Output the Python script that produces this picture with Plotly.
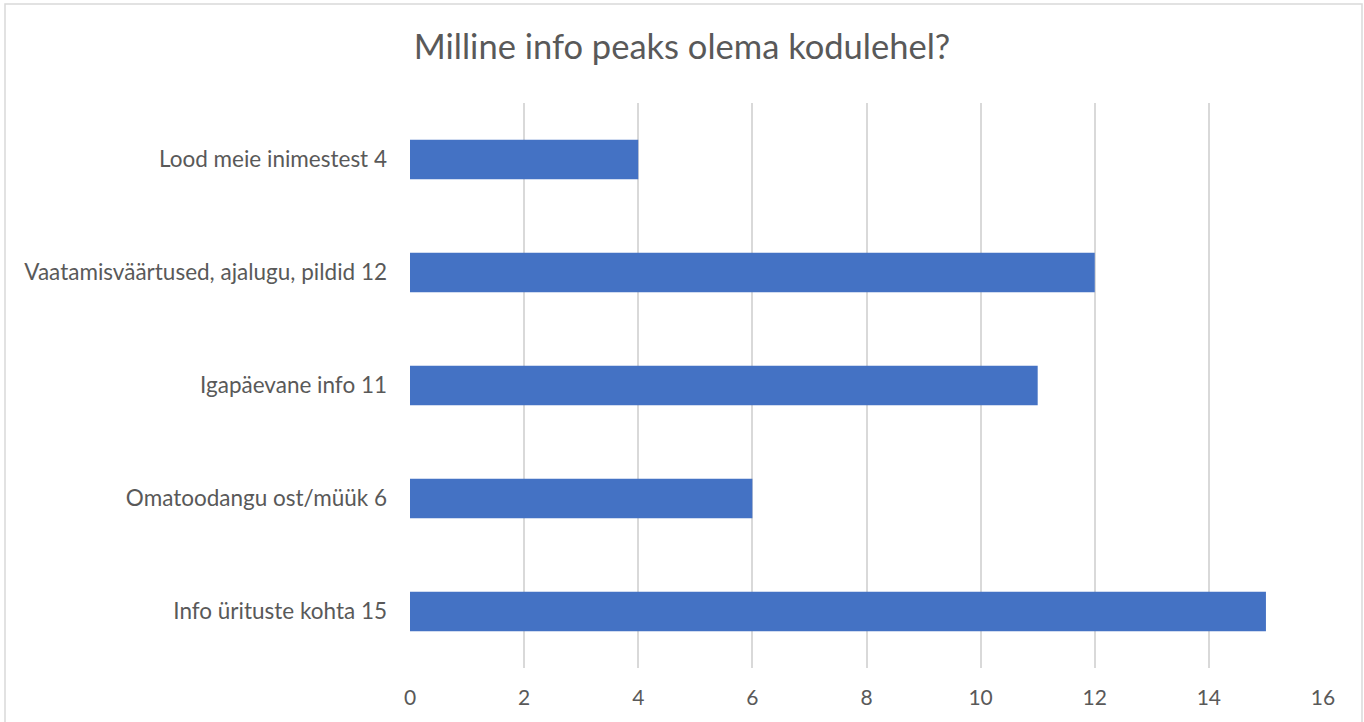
import plotly.graph_objects as go

# categories listed bottom to top as they appear on the chart
categories = [
    "Info ürituste kohta 15",
    "Omatoodangu ost/müük 6",
    "Igapäevane info 11",
    "Vaatamisväärtused, ajalugu, pildid 12",
    "Lood meie inimestest 4",
]
values = [15, 6, 11, 12, 4]
x_ticks = [0, 2, 4, 6, 8, 10, 12, 14, 16]

TEXT = "#595959"
GRID = "#D9D9D9"
BAR = "#4472C4"
FONT = "Lato"

fig = go.Figure(
    go.Bar(
        x=values,
        y=categories,
        orientation="h",
        marker=dict(color=BAR, line=dict(width=0)),
        width=0.35,
    )
)

fig.update_layout(
    width=1364,
    height=722,
    paper_bgcolor="white",
    plot_bgcolor="white",
    margin=dict(l=410, r=41, t=103, b=54),
    font=dict(family=FONT, color=TEXT, size=22),
    title=dict(
        text="Milline info peaks olema kodulehel?",
        x=0.5,
        xanchor="center",
        y=1 - 47 / 722,
        yanchor="middle",
        font=dict(family=FONT, size=34.5, color=TEXT),
    ),
    showlegend=False,
)

fig.update_xaxes(
    range=[0, 16],
    tickvals=x_ticks,
    showgrid=True,
    gridcolor=GRID,
    gridwidth=1.5,
    zeroline=False,
    showline=False,
    ticks="",
    ticklabelstandoff=15,
    tickfont=dict(size=21, color=TEXT),
)
fig.update_yaxes(
    showgrid=False,
    zeroline=False,
    showline=False,
    ticks="",
    ticklabelstandoff=22,
    tickfont=dict(size=22.5, color=TEXT),
)

# thin grey frame around the whole chart
plot_w = 1364 - 410 - 41
plot_h = 722 - 103 - 54
fig.add_shape(
    type="rect",
    xref="paper",
    yref="paper",
    x0=(5 - 410) / plot_w,
    x1=(1362 - 410) / plot_w,
    y0=(668 - 730) / plot_h,
    y1=(668 - 4) / plot_h,
    line=dict(color=GRID, width=1.5),
    fillcolor="rgba(0,0,0,0)",
    layer="below",
)

# drop the page's default body margin so the figure sits at the window origin
fig.write_html(
    "out.html",
    config={"displayModeBar": False},
    post_script="document.body.style.margin='0';",
)
